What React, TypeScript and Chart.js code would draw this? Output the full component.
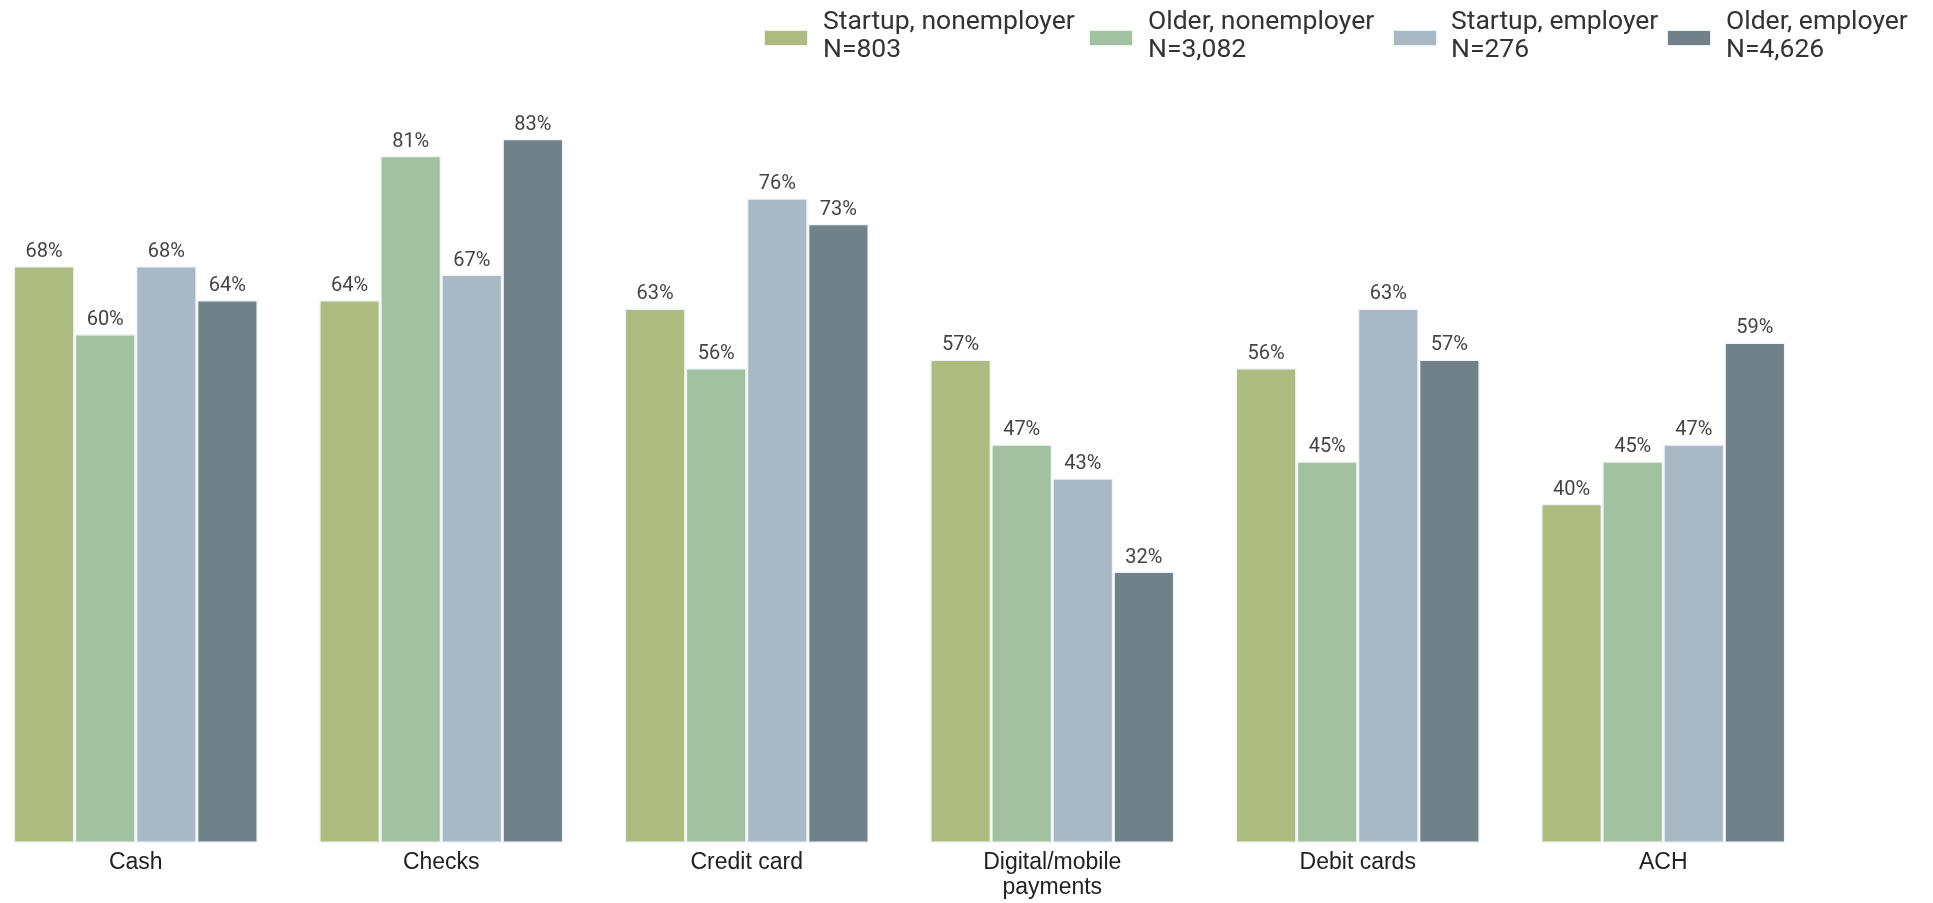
import React, { useEffect, useRef } from "react";
import { Chart, registerables } from "chart.js";

Chart.register(...registerables);

const categories: (string | string[])[] = [
  "Cash",
  "Checks",
  "Credit card",
  ["Digital/mobile", "payments"],
  "Debit cards",
  "ACH",
];

const seriesNames = [
  ["Startup, nonemployer", "N=803"],
  ["Older, nonemployer", "N=3,082"],
  ["Startup, employer", "N=276"],
  ["Older, employer", "N=4,626"],
];

const startupNonemployer = [68, 64, 63, 57, 56, 40];
const olderNonemployer = [60, 81, 56, 47, 45, 45];
const startupEmployer = [68, 67, 76, 43, 63, 47];
const olderEmployer = [64, 83, 73, 32, 57, 59];

const colors = ["#adbb80", "#a1c1a0", "#a8b8c5", "#718189"];

const legendSwatchX = [765, 1090, 1394, 1668];
const legendTextX = [823, 1148, 1451, 1726];

const valueLabelPlugin = {
  id: "valueLabels",
  afterDatasetsDraw(chart: any) {
    const ctx = chart.ctx;
    ctx.save();
    ctx.font = "20px Roboto";
    ctx.fillStyle = "#444444";
    ctx.textAlign = "center";
    ctx.textBaseline = "alphabetic";
    chart.data.datasets.forEach((ds: any, i: number) => {
      const meta = chart.getDatasetMeta(i);
      meta.data.forEach((el: any, j: number) => {
        ctx.fillText(`${ds.data[j]}%`, el.x, el.y - 9);
      });
    });
    ctx.restore();
  },
};

export default function App() {
  const canvasRef = useRef<HTMLCanvasElement>(null);

  useEffect(() => {
    if (!canvasRef.current) return;
    const data = [startupNonemployer, olderNonemployer, startupEmployer, olderEmployer];
    const chart = new Chart(canvasRef.current, {
      type: "bar",
      data: {
        labels: categories,
        datasets: data.map((d, i) => ({
          label: seriesNames[i].join(" "),
          data: d,
          backgroundColor: colors[i],
          borderColor: "rgba(240,243,245,0.95)",
          borderWidth: 1.5,
          borderSkipped: false,
          categoryPercentage: 0.8,
          barPercentage: 1.0,
        })),
      },
      options: {
        animation: false,
        responsive: false,
        devicePixelRatio: 1,
        layout: { padding: { top: 37, bottom: 0, left: 0, right: 0 } },
        plugins: {
          legend: { display: false },
          tooltip: { enabled: false },
        },
        scales: {
          x: {
            offset: true,
            grid: { display: false, drawTicks: false, tickLength: 0 },
            border: { display: false },
            ticks: {
              padding: 7,
              color: "#222222",
              font: { family: "'Liberation Sans', Arial, sans-serif", size: 23, lineHeight: 1.087 },
              maxRotation: 0,
              autoSkip: false,
            },
          },
          y: {
            display: false,
            min: 0,
            max: 95,
          },
        },
      },
      plugins: [valueLabelPlugin],
    });
    return () => chart.destroy();
  }, []);

  return (
    <div
      style={{
        position: "fixed",
        left: 0,
        top: 0,
        width: 1933,
        height: 903,
        overflow: "hidden",
        background: "#ffffff",
      }}
    >
      <canvas
        ref={canvasRef}
        width={1833}
        height={907}
        style={{ position: "absolute", left: -17, top: 0, width: 1833, height: 907 }}
      />
      {seriesNames.map((name, i) => (
        <React.Fragment key={i}>
          <div
            style={{
              position: "absolute",
              left: legendSwatchX[i],
              top: 31,
              width: 42,
              height: 14,
              background: colors[i],
              boxShadow: "0 0 0 1px rgba(235,238,240,0.9)",
            }}
          />
          <div
            style={{
              position: "absolute",
              left: legendTextX[i],
              top: 6,
              fontFamily: "Roboto, sans-serif",
              fontSize: 26.5,
              lineHeight: "28px",
              color: "#333333",
              whiteSpace: "nowrap",
            }}
          >
            <div>{name[0]}</div>
            <div>{name[1]}</div>
          </div>
        </React.Fragment>
      ))}
    </div>
  );
}
